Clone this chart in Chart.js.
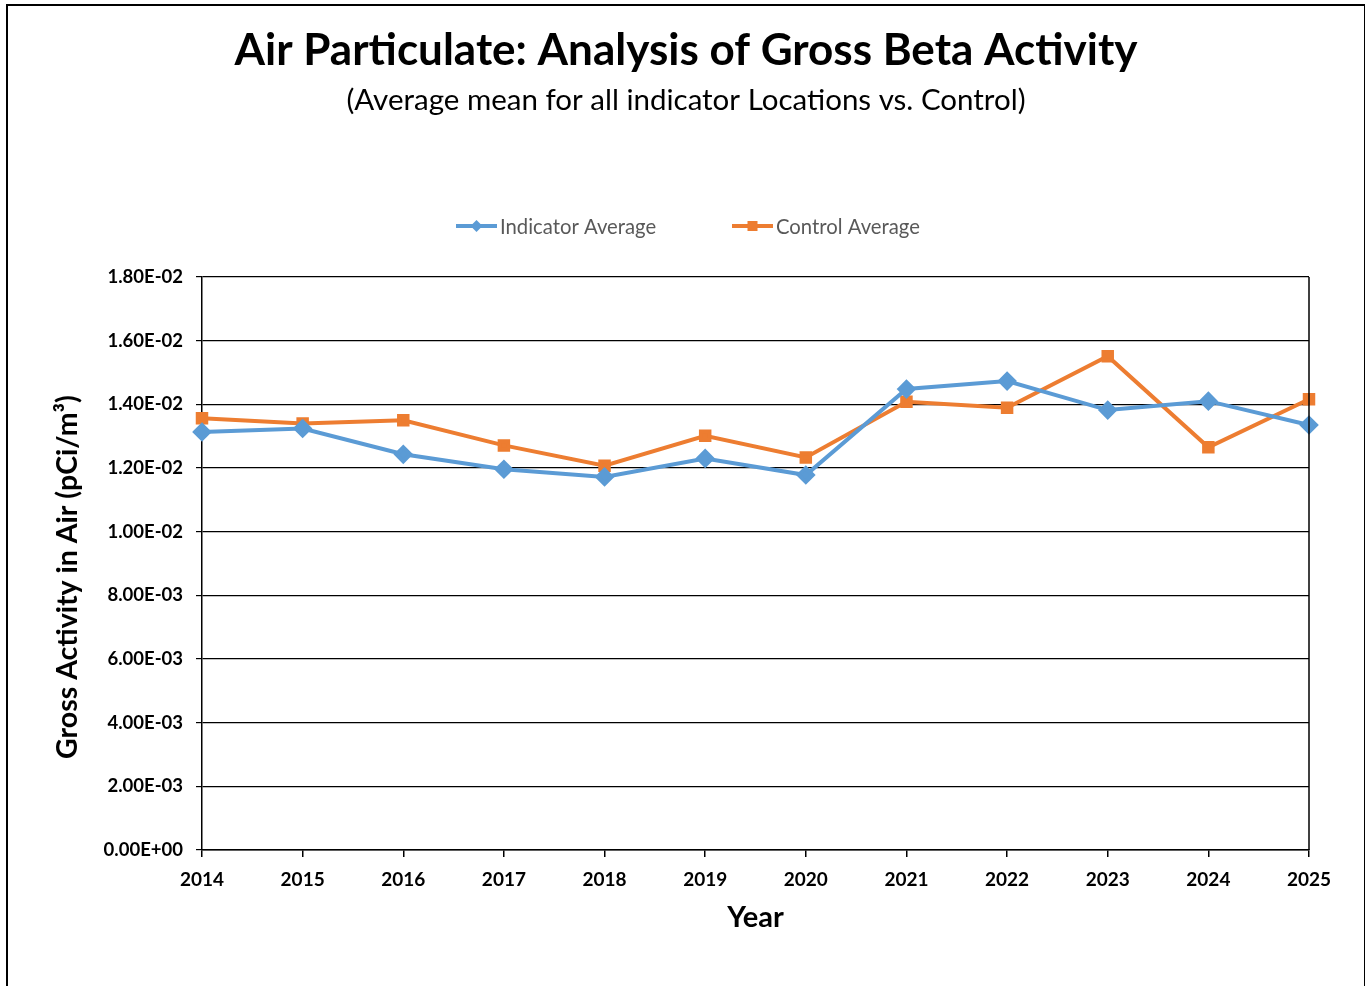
<!DOCTYPE html>
<html>
<head>
<meta charset="utf-8">
<script src="https://cdn.jsdelivr.net/npm/chart.js@4.4.1/dist/chart.umd.min.js"></script>
<style>
  html, body { margin: 0; padding: 0; background: #fff; }
  #wrap { position: relative; width: 1365px; height: 986px; }
  #frame {
    position: absolute; left: 6px; top: 4px; width: 1356px; height: 990px;
    border-top: 2px solid #000; border-left: 2px solid #000; border-right: 1px solid #000;
    pointer-events: none;
  }
</style>
</head>
<body>
<div id="wrap">
  <canvas id="airChart" width="1365" height="986"></canvas>
  <div id="frame"></div>
</div>
<script>
// ===== Data =====
const years = ["2014", "2015", "2016", "2017", "2018", "2019", "2020", "2021", "2022", "2023", "2024", "2025"];
const indicatorAvg = [0.01313, 0.01324, 0.01243, 0.01196, 0.01172, 0.01230, 0.01178, 0.01448, 0.01473, 0.01382, 0.01410, 0.01335];
const controlAvg   = [0.01356, 0.01340, 0.01350, 0.01271, 0.01207, 0.01301, 0.01233, 0.01408, 0.01389, 0.01551, 0.01265, 0.01416];
const yMin = 0, yMax = 0.018, yStep = 0.002;

const titleText = "Air Particulate: Analysis of Gross Beta Activity";
const subtitleText = "(Average mean for all indicator Locations vs. Control)";
const yTitle = "Gross Activity in Air (pCi/m\u00B3)";
const xTitle = "Year";

const BLUE = "#5B9BD5";
const ORANGE = "#ED7D31";
const FONT = "Lato, 'Open Sans', sans-serif";

// ===== Helpers =====
function airSci(v) {
  const parts = Number(v).toExponential(2).split("e");
  const n = parseInt(parts[1], 10);
  return parts[0] + "E" + (n < 0 ? "-" : "+") + String(Math.abs(n)).padStart(2, "0");
}

// draws titles, legend and axis titles
const airTextPlugin = {
  id: "airText",
  afterDraw(chart) {
    const ctx = chart.ctx;
    const area = chart.chartArea;
    ctx.save();
    ctx.fillStyle = "#000";
    ctx.textAlign = "center";
    ctx.textBaseline = "middle";

    ctx.font = "bold 44px " + FONT;
    ctx.fillText(titleText, 686, 51);
    ctx.font = "29.5px " + FONT;
    ctx.fillText(subtitleText, 686, 100);

    // legend
    const items = [
      { ds: chart.data.datasets[0], x: 456 },
      { ds: chart.data.datasets[1], x: 732 }
    ];
    ctx.font = "20.3px " + FONT;
    ctx.textAlign = "left";
    items.forEach(it => {
      const ly = 226;
      ctx.strokeStyle = it.ds.borderColor;
      ctx.lineWidth = 4;
      ctx.beginPath();
      ctx.moveTo(it.x, ly);
      ctx.lineTo(it.x + 41, ly);
      ctx.stroke();
      ctx.fillStyle = it.ds.borderColor;
      const cx = it.x + 20.5;
      if (it.ds.pointStyle === "rectRot") {
        ctx.beginPath();
        ctx.moveTo(cx, ly - 6); ctx.lineTo(cx + 6, ly); ctx.lineTo(cx, ly + 6); ctx.lineTo(cx - 6, ly);
        ctx.closePath(); ctx.fill();
      } else {
        ctx.fillRect(cx - 5, ly - 5, 10, 10);
      }
      ctx.fillStyle = "#595959";
      ctx.fillText(it.ds.label, it.x + 44, ly + 1);
    });

    // axis titles
    ctx.fillStyle = "#000";
    ctx.textAlign = "center";
    ctx.font = "bold 29px " + FONT;
    ctx.fillText(xTitle, (area.left + area.right) / 2, 918);
    ctx.font = "bold 28.5px " + FONT;
    ctx.translate(68, 577);
    ctx.rotate(-Math.PI / 2);
    ctx.fillText(yTitle, 0, 0);
    ctx.restore();
  }
};

// ===== Chart =====
new Chart(document.getElementById("airChart").getContext("2d"), {
  type: "line",
  data: {
    labels: years,
    datasets: [
      {
        label: "Indicator Average",
        data: indicatorAvg,
        borderColor: BLUE,
        backgroundColor: BLUE,
        borderWidth: 4,
        pointStyle: "rectRot",
        pointRadius: 7,
        pointHoverRadius: 7,
        tension: 0,
        fill: false
      },
      {
        label: "Control Average",
        data: controlAvg,
        borderColor: ORANGE,
        backgroundColor: ORANGE,
        borderWidth: 4,
        pointStyle: "rect",
        pointRadius: 6,
        pointHoverRadius: 6,
        tension: 0,
        fill: false
      }
    ]
  },
  options: {
    responsive: false,
    animation: false,
    layout: { padding: { top: 277, right: 56, bottom: 0, left: 0 } },
    plugins: {
      legend: { display: false },
      title: { display: false },
      tooltip: { enabled: false }
    },
    scales: {
      x: {
        offset: false,
        afterFit: s => { s.height = 136; },
        grid: { display: true, drawOnChartArea: false, drawTicks: true, tickLength: 7, color: "#000", lineWidth: 1.5 },
        border: { color: "#000", width: 1.5 },
        ticks: { color: "#000", font: { family: FONT, size: 19, weight: "bold" }, padding: 11, maxRotation: 0, autoSkip: false }
      },
      y: {
        min: yMin,
        max: yMax,
        afterFit: s => { s.width = 202; },
        grid: { color: "#000", lineWidth: 1.2, tickLength: 6 },
        border: { color: "#000", width: 1.5 },
        ticks: { stepSize: yStep, color: "#000", font: { family: FONT, size: 18.5, weight: "bold" }, padding: 13, callback: v => airSci(v) }
      }
    }
  },
  plugins: [
    airTextPlugin,
    {
      id: "airBox",
      afterDatasetsDraw(chart) {
        // right plot border drawn on top of lines
        const a = chart.chartArea, ctx = chart.ctx;
        ctx.save();
        ctx.strokeStyle = "#000";
        ctx.lineWidth = 1.5;
        ctx.beginPath();
        ctx.moveTo(a.right, a.top);
        ctx.lineTo(a.right, a.bottom);
        ctx.stroke();
        ctx.restore();
      }
    }
  ]
});
</script>
</body>
</html>
